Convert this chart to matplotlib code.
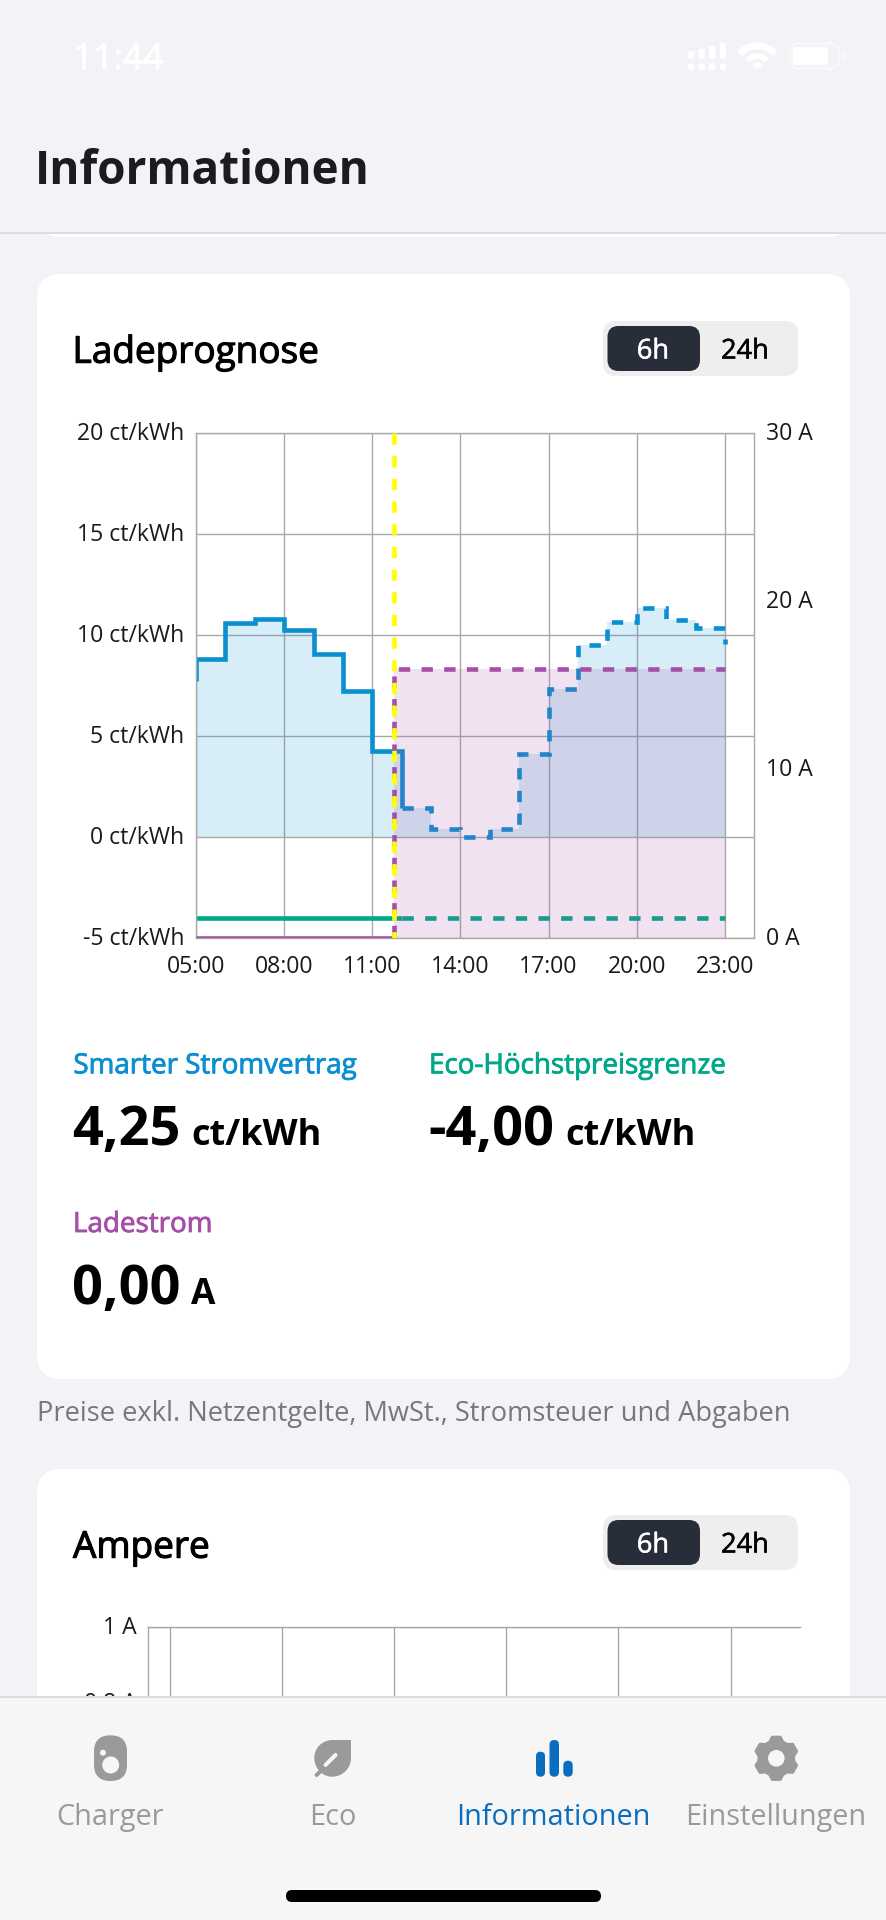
#!/usr/bin/env python3
import numpy as np
import matplotlib
matplotlib.use('Agg')
import matplotlib.pyplot as plt
import matplotlib.patheffects as pe
from matplotlib.patches import FancyBboxPatch, Circle, Wedge, Rectangle, PathPatch, Polygon
from matplotlib.path import Path
from matplotlib.transforms import ScaledTranslation

plt.rcParams['font.family'] = ['Open Sans', 'DejaVu Sans']
plt.rcParams['lines.scale_dashes'] = False

W, H = 887, 1920

# chart data
hours = [5, 6, 7, 8, 9, 10, 11, 12, 13, 14, 15, 16, 17, 18, 19, 20, 21, 22, 23, 23]
price = [7.7, 8.8, 10.58, 10.78, 10.23, 9.03, 7.24, 4.24, 1.41, 0.37, 0.0, 0.4, 4.08, 7.3,
         9.52, 10.62, 11.31, 10.76, 10.32, 9.54]
solid_until = 12
eco_hours = [5, 12, 23]
eco_limit = [-4.0, -4.0, -4.0]
now_hour = 11.733
current_hours = [5, now_hour, now_hour, 23]
current_amps = [0, 0, 16, 16]

price_ticks = [-5, 0, 5, 10, 15, 20]
price_labels = ['-5 ct/kWh', '0 ct/kWh', '5 ct/kWh', '10 ct/kWh', '15 ct/kWh', '20 ct/kWh']
amp_ticks = [0, 10, 20, 30]
amp_labels = ['0 A', '10 A', '20 A', '30 A']
hour_ticks = [5, 8, 11, 14, 17, 20, 23]
hour_labels = ['05:00', '08:00', '11:00', '14:00', '17:00', '20:00', '23:00']

# only the top of this chart is on screen
ampere_ticks = [0.8, 1]
ampere_labels = ['0,8 A', '1 A']
ampere_grid = [0, 1, 2, 3, 4, 5]

BLUE = '#0a8fd0'
TEAL = '#00a88a'
PURPLE = '#a64fa8'
YELLOW = '#ffff00'
GRID = '#a9a9a9'
LINE_W = 4.6 * 72 / 100
DASH = (0, (8.16, 8.16))


def px(v):
    # pixels to points at dpi 100
    return v * 72 / 100


def heavier(color, w=0.6):
    # Open Sans only comes as regular and bold here, fake the medium weight
    return [pe.withStroke(linewidth=w, foreground=color)]


def round_rect(ax, x0, y0, x1, y1, r, color, **kw):
    p = FancyBboxPatch((x0, y0), x1 - x0, y1 - y0, boxstyle=f'round,pad=0,rounding_size={r}',
                       fc=color, ec='none', **kw)
    ax.add_patch(p)
    return p


def toggle(ax, base):
    round_rect(ax, 603, base - 28, 798, base + 27, 13, '#eeeeee')
    round_rect(ax, 607.5, base - 23, 700, base + 22, 11, '#282d3a')
    ax.text(653, base + 9.5, '6h', color='white', fontsize=19.6, ha='center', va='baseline',
            path_effects=heavier('white', 0.4))
    ax.text(745, base + 9.5, '24h', color='black', fontsize=19.6, ha='center', va='baseline',
            path_effects=heavier('black', 0.4))


def nudge_up(ax, labels, pts):
    # label text sits slightly high in the app compared with matplotlib centering
    off = ScaledTranslation(0, pts / 72, fig.dpi_scale_trans)
    for lab in labels:
        lab.set_transform(lab.get_transform() + off)


fig = plt.figure(figsize=(W / 100, H / 100), dpi=100, facecolor='#f2f2f7')

# background layer: cards, headers, numbers
bg = fig.add_axes([0, 0, 1, 1], zorder=0)
bg.set_xlim(0, W)
bg.set_ylim(H, 0)
bg.axis('off')

round_rect(bg, 37, 120, 850, 237, 24, 'white')
bg.add_patch(Rectangle((0, 0), W, 232, fc='#f2f2f7', ec='none'))
bg.plot([0, W], [233, 233], color='#dcdcdf', lw=px(2))

bg.text(73, 69, '11:44', color='white', fontsize=25.5, va='baseline', path_effects=heavier('white', 0.8))
# signal bars and dots
for x, top in zip([688, 698.5, 709, 719.7], [51, 48.7, 45.7, 42.7]):
    round_rect(bg, x, top, x + 6.4, 59, 2, 'white')
    round_rect(bg, x, 63.3, x + 6.4, 70.3, 2, 'white')
# wifi
for r0, r1 in [(20, 27), (10, 16)]:
    bg.add_patch(Wedge((757.3, 69.3), r1, 222, 318, width=r1 - r0, fc='white', ec='none'))
bg.add_patch(Wedge((757.3, 69.3), 7, 222, 318, fc='white', ec='none'))
# battery
round_rect(bg, 790, 43.5, 839, 68.5, 8, 'none').set(ec='#f8f8fb', lw=px(3))
round_rect(bg, 792.7, 46.7, 828, 65.3, 4, 'white')
round_rect(bg, 842, 52, 845, 60, 1, '#f8f8fb')

bg.text(35, 184, 'Informationen', color='#1c1c1e', fontsize=33, weight='bold', va='baseline')

# first card
round_rect(bg, 37, 274, 850, 1379, 24, 'white')
bg.text(72.5, 362.7, 'Ladeprognose', color='black', fontsize=26.6, va='baseline', path_effects=heavier('black', 0.8))
toggle(bg, 349)

LABEL_SIZE = 20
bg.text(73.4, 1073.3, 'Smarter Stromvertrag', color=BLUE, fontsize=LABEL_SIZE, va='baseline',
        path_effects=heavier(BLUE))
bg.text(429, 1073.3, 'Eco-Höchstpreisgrenze', color=TEAL, fontsize=LABEL_SIZE, va='baseline',
        path_effects=heavier(TEAL))
bg.text(73, 1232, 'Ladestrom', color=PURPLE, fontsize=LABEL_SIZE, va='baseline', path_effects=heavier(PURPLE))
for x, y, txt, size in [(72.5, 1145, '4,25', 39), (191, 1145, 'ct/kWh', 26),
                        (428.5, 1145, '-4,00', 39), (565, 1145, 'ct/kWh', 26),
                        (72.5, 1304, '0,00', 39), (191, 1304, 'A', 25.5)]:
    bg.text(x, y, txt, color='black', fontsize=size, weight='bold', va='baseline')

bg.text(37, 1421, 'Preise exkl. Netzentgelte, MwSt., Stromsteuer und Abgaben', color='#787878',
        fontsize=19.65, va='baseline')

# second card, runs under the tab bar
round_rect(bg, 37, 1469, 850, 1800, 24, 'white')
bg.text(73, 1557.7, 'Ampere', color='black', fontsize=26.6, va='baseline', path_effects=heavier('black', 0.8))
toggle(bg, 1543)

# price chart
L, R, T, B = 196, 754.3, 432.9, 937.9
ax = fig.add_axes([L / W, 1 - B / H, (R - L) / W, (B - T) / H], zorder=1)
ax.patch.set_alpha(0)
ax.set_axisbelow(True)
ax.set_xlim(5, 24)
ax.set_ylim(-5, 20)
ax.set_xticks(hour_ticks)
ax.set_xticklabels(hour_labels)
ax.set_yticks(price_ticks)
ax.set_yticklabels(price_labels)
ax.grid(True, color=GRID, lw=1.0)
ax.tick_params(length=0, labelsize=16.6, labelcolor='#1a1a1a')
ax.tick_params(axis='x', pad=12)
ax.tick_params(axis='y', pad=8.5)
nudge_up(ax, ax.get_yticklabels(), 1.5)
for s in ax.spines.values():
    s.set_color(GRID)
    s.set_linewidth(1.0)

hours_a = np.array(hours, dtype=float)
price_a = np.array(price)
ax.fill_between(hours_a, 0, price_a, step='pre', color=BLUE, alpha=0.16, lw=0)
i = hours.index(solid_until)
ax.plot(np.append(hours_a[:i + 1], hours_a[i]), np.append(price_a[:i + 1], price_a[i + 1]),
        color=BLUE, lw=LINE_W, drawstyle='steps-pre', solid_joinstyle='miter', solid_capstyle='butt')
ax.plot(np.append(hours_a[i], hours_a[i + 1:]), np.append(price_a[i + 1], price_a[i + 1:]),
        color=BLUE, lw=LINE_W, drawstyle='steps-pre', linestyle=DASH, dash_joinstyle='miter')
ax.plot(eco_hours[:2], eco_limit[:2], color=TEAL, lw=LINE_W, solid_capstyle='butt')
ax.plot(eco_hours[1:], eco_limit[1:], color=TEAL, lw=LINE_W, linestyle=DASH)

# current sits on its own right axis, drawn above the price series
ax2 = ax.twinx()
ax2.set_ylim(0, 30)
ax2.set_yticks(amp_ticks)
ax2.set_yticklabels(amp_labels)
ax2.tick_params(length=0, labelsize=16.6, labelcolor='#1a1a1a', pad=8.2)
nudge_up(ax2, ax2.get_yticklabels(), 1.5)
for s in ax2.spines.values():
    s.set_visible(False)
ax2.fill_between(current_hours[1:], 0, current_amps[1:], color=PURPLE, alpha=0.16, lw=0)
ax2.plot(current_hours[:2], current_amps[:2], color=PURPLE, lw=LINE_W, solid_capstyle='butt')
ax2.plot(current_hours[1:], current_amps[1:], color=PURPLE, lw=LINE_W,
         linestyle=(px(21.3), (8.16, 8.16)), dash_joinstyle='miter')
ax2.plot([now_hour, now_hour], [30, 0], color=YELLOW, lw=LINE_W, linestyle=DASH)

# second chart, runs past the bottom of the screen
a_l, a_r, a_t, a_b = 148.2, 800, 1627, 2007
ax3 = fig.add_axes([a_l / W, 1 - a_b / H, (a_r - a_l) / W, (a_b - a_t) / H], zorder=1)
ax3.patch.set_alpha(0)
ax3.set_xlim(-0.197, 5.62)
ax3.set_ylim(0, 1)
ax3.set_xticks(ampere_grid)
ax3.set_xticklabels([])
ax3.set_yticks(ampere_ticks)
ax3.set_yticklabels(ampere_labels)
ax3.grid(True, color=GRID, lw=1.0)
ax3.tick_params(length=0, labelsize=16.6, labelcolor='#1a1a1a', pad=8.5)
nudge_up(ax3, ax3.get_yticklabels(), 1.5)
for name, s in ax3.spines.items():
    s.set_color(GRID)
    s.set_linewidth(1.0)
    s.set_visible(name in ('left', 'top'))

# tab bar on top of everything
top = fig.add_axes([0, 0, 1, 1], zorder=3)
top.set_xlim(0, W)
top.set_ylim(H, 0)
top.axis('off')
top.add_patch(Rectangle((0, 1697), W, H - 1697, fc='#f6f6f6', ec='none'))
top.plot([0, W], [1697, 1697], color='#dcdcdf', lw=px(2))

ICON = '#9a9a9c'
ACTIVE = '#0a6dbd'
TAB_BG = '#f6f6f6'

# charger
round_rect(top, 94, 1735.3, 127, 1781, 16.4, ICON)
top.add_patch(Circle((110.7, 1765), 8.5, fc=TAB_BG, ec='none'))
top.add_patch(Circle((103, 1752.7), 3, fc=TAB_BG, ec='none'))

# leaf
leaf = Path([(351, 1740), (333, 1740), (322, 1740), (314.3, 1748), (314.3, 1758), (314.3, 1768),
             (322, 1776.7), (332, 1776.7), (343, 1776.7), (351, 1768), (351, 1758), (351, 1740)],
            [Path.MOVETO, Path.LINETO, Path.CURVE4, Path.CURVE4, Path.CURVE4, Path.CURVE4, Path.CURVE4,
             Path.CURVE4, Path.CURVE4, Path.CURVE4, Path.CURVE4, Path.LINETO])
top.add_patch(PathPatch(leaf, fc=ICON, ec='none'))
top.plot([322, 316.5], [1770, 1775], color=ICON, lw=px(4), solid_capstyle='round')
top.plot([325.5, 335.5], [1765, 1755], color=TAB_BG, lw=px(4), solid_capstyle='round')

# bar icon
round_rect(top, 536, 1751.7, 545, 1776.7, 4.5, ACTIVE)
round_rect(top, 549.5, 1740, 559, 1776.7, 4.7, ACTIVE)
round_rect(top, 563.3, 1760.7, 572.7, 1776.7, 4.7, ACTIVE)

# gear
gear_pts = []
for k in range(6):
    c = np.pi / 2 + k * np.pi / 3
    for d, r in [(-0.38, 17.5), (-0.19, 21.5), (0.19, 21.5), (0.38, 17.5)]:
        gear_pts.append((776.3 + r * np.cos(c + d), 1758.3 + r * np.sin(c + d)))
top.add_patch(Polygon(gear_pts, closed=True, fc=ICON, ec=ICON, lw=px(3), joinstyle='round'))
top.add_patch(Circle((776.3, 1758.3), 8.3, fc=TAB_BG, ec='none'))

for x, txt, col in [(110, 'Charger', ICON), (332.5, 'Eco', ICON), (553, 'Informationen', ACTIVE),
                    (776, 'Einstellungen', ICON)]:
    top.text(x, 1825, txt, color=col, fontsize=20.8, ha='center', va='baseline')

# home indicator
round_rect(top, 286, 1890, 601, 1902, 6, 'black')

fig.savefig('out.png', dpi=100, facecolor=fig.get_facecolor())
